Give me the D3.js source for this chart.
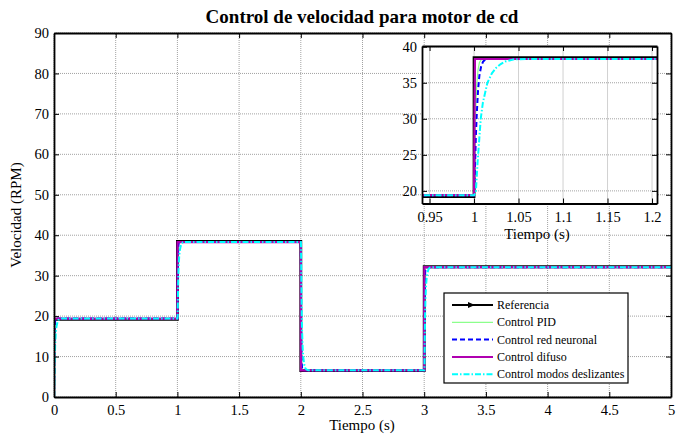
<!DOCTYPE html>
<html>
<head>
<meta charset="utf-8">
<script src="https://cdn.jsdelivr.net/npm/d3@7"></script>
<style>
body { margin: 0; background: #fff; }
</style>
</head>
<body>
<div><svg id="svg0" width="681" height="437"></svg></div>
<script>
var svg0 = d3.select('#svg0');
var serif = "'Liberation Serif', 'Times New Roman', Times, serif";

// ---- data ----
var seriesNames = ['Referencia', 'Control PID', 'Control red neuronal', 'Control difuso', 'Control modos deslizantes'];
var seriesColors = ['#000000', '#8cff8c', '#0000ff', '#b000b0', '#00ffff'];

var refData = [[0,19.2],[1,19.2],[1,38.5],[2,38.5],[2,6.5],[3,6.5],[3,32.2],[5,32.2]];

var pidData = [[0,0],[0.001,6.8],[0.002,12.4],[0.003,15.7],[0.0045,17.8],[0.006,18.8],[0.008,19.2],[0.01,19.4],
  [1,19.4],[1.001,26],[1.002,31.5],[1.003,34.8],[1.0045,36.8],[1.006,37.8],[1.008,38.2],[1.01,38.3],
  [2,38.3],[2.001,27.2],[2.002,18.0],[2.003,12.6],[2.0045,9.1],[2.006,7.6],[2.008,6.9],[2.01,6.6],
  [3,6.6],[3.001,15.5],[3.002,22.9],[3.003,27.3],[3.0045,30.1],[3.006,31.3],[3.008,31.8],[3.01,32.1],[5,32.1]];

var neuroData = [[0,0],[0.001,3.7],[0.002,8.3],[0.003,11.4],[0.0045,14.9],[0.006,17.1],[0.008,18.4],[0.01,19.0],[0.013,19.4],
  [1,19.4],[1.001,23],[1.002,27.5],[1.003,30.5],[1.0045,34],[1.006,36],[1.008,37.3],[1.01,37.9],[1.013,38.3],
  [2,38.3],[2.001,32.3],[2.002,24.7],[2.003,19.6],[2.0045,13.9],[2.006,10.4],[2.008,8.2],[2.01,7.3],[2.013,6.6],
  [3,6.6],[3.001,11.4],[3.002,17.6],[3.003,21.6],[3.0045,26.2],[3.006,29.0],[3.008,30.8],[3.01,31.6],[3.013,32.1],[5,32.1]];

var fuzzyData = [[0,0],[0.0005,15],[0.001,19.4],
  [1,19.4],[1.0005,30],[1.001,38.3],
  [2,38.3],[2.0005,15],[2.001,6.6],
  [3,6.6],[3.0005,25],[3.001,32.1],[5,32.1]];

var slidingData = [[0,0],[0.002,0.4],[0.004,4.8],[0.0075,10.9],[0.01,13.2],[0.015,16.0],[0.02,17.4],[0.025,18.1],[0.03,18.7],[0.035,19.0],[0.045,19.3],[0.06,19.4],
  [1,19.4],[1.002,19.8],[1.004,24],[1.0075,30],[1.01,32.3],[1.015,35],[1.02,36.3],[1.025,37.1],[1.03,37.6],[1.035,37.95],[1.045,38.25],[1.06,38.3],
  [2,38.3],[2.002,37.7],[2.004,30.5],[2.0075,20.5],[2.01,16.7],[2.015,12.1],[2.02,9.9],[2.025,8.7],[2.03,7.8],[2.035,7.2],[2.045,6.8],[2.06,6.6],
  [3,6.6],[3.002,7.1],[3.004,12.9],[3.0075,20.9],[3.01,23.9],[3.015,27.6],[3.02,29.4],[3.025,30.4],[3.03,31.1],[3.035,31.6],[3.045,32.0],[3.06,32.1],[5,32.1]];

var mainXTicks = [0,0.5,1,1.5,2,2.5,3,3.5,4,4.5,5];
var mainYTicks = [0,10,20,30,40,50,60,70,80,90];
var insetXTicks = [0.95,1,1.05,1.1,1.15,1.2];
var insetYTicks = [20,25,30,35,40];

var allData = [refData, pidData, neuroData, fuzzyData, slidingData];
var widths = [2.8, 1.2, 2, 2.2, 2];
var dashes = [null, null, '5,3', null, '6,2,1.5,2'];

var fmt = d => String(+d.toFixed(2));

function drawPanel(g, x, y, xt, yt, id, fs) {
  var x0 = x.range()[0], x1 = x.range()[1], y0 = y.range()[0], y1 = y.range()[1];
  g.append('rect').attr('x', x0).attr('y', y1).attr('width', x1-x0).attr('height', y0-y1).attr('fill', '#fff');
  // grid
  g.selectAll('.gx').data(xt).enter().append('line')
    .attr('x1', d => x(d)).attr('x2', d => x(d)).attr('y1', y0).attr('y2', y1)
    .attr('stroke', '#8a8a8a').attr('stroke-width', 0.8).attr('stroke-dasharray', '1,1');
  g.selectAll('.gy').data(yt).enter().append('line')
    .attr('x1', x0).attr('x2', x1).attr('y1', d => y(d)).attr('y2', d => y(d))
    .attr('stroke', '#8a8a8a').attr('stroke-width', 0.8).attr('stroke-dasharray', '1,1');
  // lines
  g.append('clipPath').attr('id', id).append('rect').attr('x', x0).attr('y', y1).attr('width', x1-x0).attr('height', y0-y1);
  var line = d3.line().x(d => x(d[0])).y(d => y(d[1]));
  allData.forEach(function(dd, i) {
    g.append('path').attr('d', line(dd)).attr('fill', 'none').attr('clip-path', 'url(#'+id+')')
      .attr('stroke', seriesColors[i]).attr('stroke-width', widths[i])
      .attr('stroke-dasharray', dashes[i]).attr('stroke-linejoin', 'miter');
  });
  // axes (ticks inside)
  var tl = 5;
  g.append('g').attr('transform', 'translate(0,'+y0+')')
    .call(d3.axisBottom(x).tickValues(xt).tickFormat(fmt).tickSizeInner(-tl).tickSizeOuter(0).tickPadding(8));
  g.append('g').attr('transform', 'translate(0,'+y1+')')
    .call(d3.axisTop(x).tickValues(xt).tickFormat('').tickSizeInner(-tl).tickSizeOuter(0));
  g.append('g').attr('transform', 'translate('+x0+',0)')
    .call(d3.axisLeft(y).tickValues(yt).tickFormat(fmt).tickSizeInner(-tl).tickSizeOuter(0).tickPadding(5));
  g.append('g').attr('transform', 'translate('+x1+',0)')
    .call(d3.axisRight(y).tickValues(yt).tickFormat('').tickSizeInner(-tl).tickSizeOuter(0));
  g.selectAll('.domain').attr('stroke', '#000').attr('stroke-width', 1.8);
  g.selectAll('.tick line').attr('stroke', '#000');
  g.selectAll('.tick text').style('font-family', serif).style('font-size', fs + 'px').attr('fill', '#000');
}

// main plot
var x = d3.scaleLinear().domain([0, 5]).range([54, 671]);
var y = d3.scaleLinear().domain([0, 90]).range([397, 33]);
drawPanel(svg0.append('g'), x, y, mainXTicks, mainYTicks, 'clipMain', 14.5);

// inset
var xi = d3.scaleLinear().domain([0.9415, 1.2056]).range([422, 657]);
var yi = d3.scaleLinear().domain([18.25, 40.1]).range([203.5, 46]);
drawPanel(svg0.append('g'), xi, yi, insetXTicks, insetYTicks, 'clipInset', 14.5);

// legend
var lg = svg0.append('g');
lg.append('rect').attr('x', 444).attr('y', 293).attr('width', 184).attr('height', 90)
  .attr('fill', '#fff').attr('stroke', '#000').attr('stroke-width', 1.2);
seriesNames.forEach(function(name, i) {
  var ly = 305 + i*17.3;
  lg.append('line').attr('x1', 452).attr('x2', 493).attr('y1', ly).attr('y2', ly)
    .attr('stroke', seriesColors[i]).attr('stroke-width', i == 1 ? 1.2 : 2)
    .attr('stroke-dasharray', dashes[i]);
  if (i == 0) {
    lg.append('path').attr('d', 'M468,'+(ly-3)+'L475,'+ly+'L468,'+(ly+3)+'Z').attr('fill', '#000');
  }
  lg.append('text').attr('x', 497).attr('y', ly+4).style('font-family', serif).style('font-size', '12px').text(name);
});

// titles
svg0.append('text').attr('x', 362).attr('y', 23).attr('text-anchor', 'middle')
  .style('font-family', serif).style('font-size', '19px').style('font-weight', 'bold').text('Control de velocidad para motor de cd');
svg0.append('text').attr('x', 362).attr('y', 430).attr('text-anchor', 'middle')
  .style('font-family', serif).style('font-size', '15px').text('Tiempo (s)');
svg0.append('text').attr('transform', 'translate(21,215) rotate(-90)').attr('text-anchor', 'middle')
  .style('font-family', serif).style('font-size', '15px').text('Velocidad (RPM)');
svg0.append('text').attr('x', 537).attr('y', 239).attr('text-anchor', 'middle')
  .style('font-family', serif).style('font-size', '15px').text('Tiempo (s)');
</script>
</body>
</html>
